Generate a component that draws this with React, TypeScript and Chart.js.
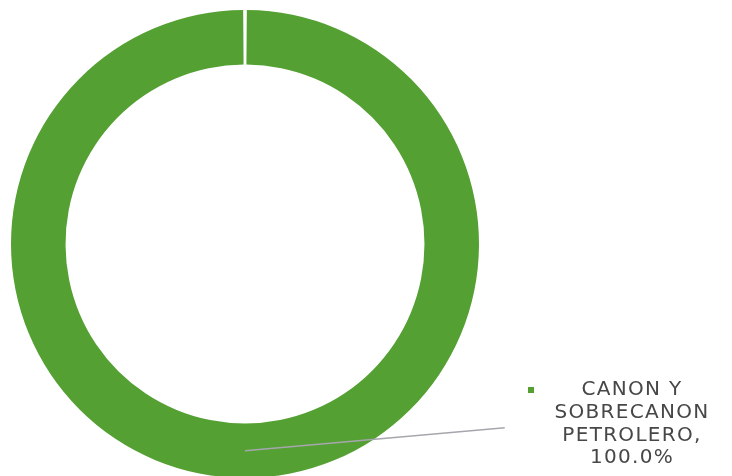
import React, { useEffect, useRef } from "react";
import { Chart, registerables } from "chart.js";

Chart.register(...registerables);

const categories = ["CANON Y SOBRECANON PETROLERO"];
const labelLines = [["CANON Y", "SOBRECANON", "PETROLERO,"]];
const values = [100];
const colors = ["#54a032"];

const labelPlugin = {
  id: "leaderLabel",
  afterDraw(chart: any) {
    const meta = chart.getDatasetMeta(0);
    const arc = meta.data[0];
    if (!arc) return;
    const { x, y, innerRadius, outerRadius } = arc.getProps(["x", "y", "innerRadius", "outerRadius"], true);
    const ctx = chart.ctx;
    const total = values.reduce((a, b) => a + b, 0);
    const pct = ((values[0] / total) * 100).toFixed(1) + "%";
    const midR = (innerRadius + outerRadius) / 2;
    const sx = x;
    const sy = y + midR;
    const ex = x + outerRadius * 1.11;
    const ey = y + outerRadius * 0.785;
    ctx.save();
    ctx.strokeStyle = "#a6a6ae";
    ctx.lineWidth = 1.5;
    ctx.beginPath();
    ctx.moveTo(sx, sy);
    ctx.lineTo(ex, ey);
    ctx.stroke();
    // label
    const tx = 632;
    const lines = [...labelLines[0], pct];
    ctx.font = "20px 'DejaVu Sans', sans-serif";
    (ctx as any).letterSpacing = "1.3px";
    ctx.fillStyle = "#474747";
    ctx.textAlign = "center";
    ctx.textBaseline = "middle";
    const top = 390;
    lines.forEach((l, i) => ctx.fillText(l, tx, top + i * 22.7));
    ctx.fillStyle = colors[0];
    ctx.fillRect(528, 387, 6, 6);
    ctx.restore();
  },
};

export default function App() {
  const ref = useRef<HTMLCanvasElement>(null);
  useEffect(() => {
    document.body.style.margin = "0";
    document.body.style.overflow = "hidden";
    const chart = new Chart(ref.current!, {
      type: "doughnut",
      data: {
        labels: categories,
        datasets: [
          {
            data: values,
            backgroundColor: colors,
            borderWidth: 0,
          },
        ],
      },
      options: {
        animation: false,
        responsive: false,
        maintainAspectRatio: false,
        cutout: "76.7%",
        rotation: 0.45,
        circumference: 359.1,
        layout: { padding: { left: 11, top: 10, right: 253, bottom: 2 } },
        plugins: {
          legend: { display: false },
          tooltip: { enabled: false },
        },
      },
      plugins: [labelPlugin],
    });
    return () => chart.destroy();
  }, []);
  return (
    <div style={{ width: 732, height: 476, overflow: "hidden", background: "#fff" }}>
      <canvas ref={ref} width={732} height={480} style={{ display: "block" }} />
    </div>
  );
}
